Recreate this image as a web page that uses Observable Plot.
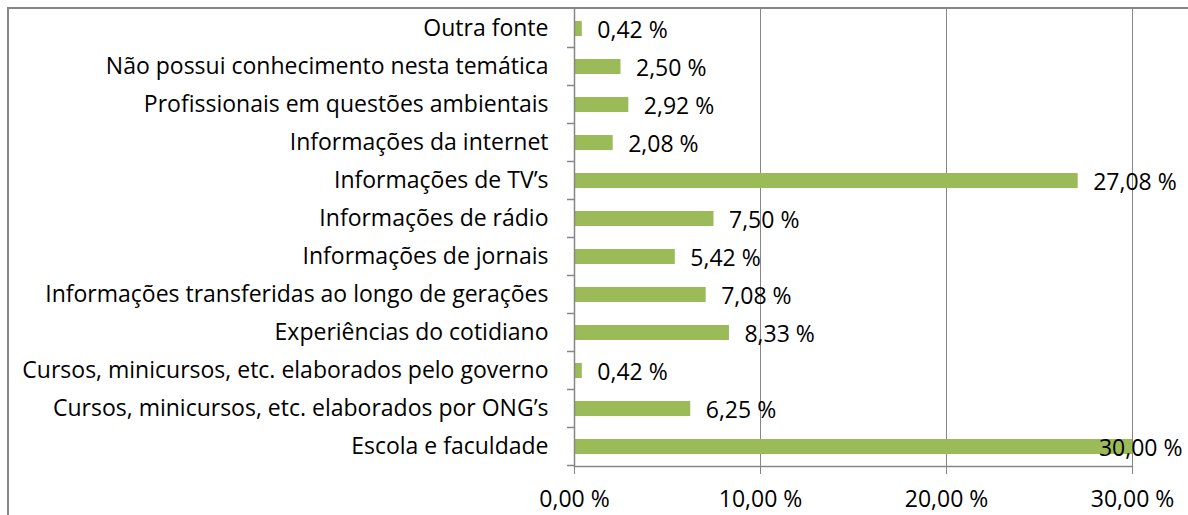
<!DOCTYPE html>
<html>
<head>
<meta charset="utf-8">
<script src="https://cdn.jsdelivr.net/npm/d3@7"></script>
<script src="https://cdn.jsdelivr.net/npm/@observablehq/plot@0.6"></script>
<style>
  html, body { margin: 0; padding: 0; background: #fff; }
  #wrap { position: relative; width: 1188px; height: 515px; overflow: hidden; }
  #border { position: absolute; left: 7px; top: 7px; width: 1300px; height: 600px;
            border-left: 2.5px solid #868686; border-top: 2.5px solid #868686; pointer-events: none; }
  #chart { position: absolute; left: 0; top: 0; }
</style>
</head>
<body>
<div id="wrap"><div id="chart"></div><div id="border"></div></div>
<script>
const categories = [
  "Outra fonte",
  "Não possui conhecimento nesta temática",
  "Profissionais em questões ambientais",
  "Informações da internet",
  "Informações de TV’s",
  "Informações de rádio",
  "Informações de jornais",
  "Informações transferidas ao longo de gerações",
  "Experiências do cotidiano",
  "Cursos, minicursos, etc. elaborados pelo governo",
  "Cursos, minicursos, etc. elaborados por ONG’s",
  "Escola e faculdade"
];
const values = [0.42, 2.50, 2.92, 2.08, 27.08, 7.50, 5.42, 7.08, 8.33, 0.42, 6.25, 30.00];
const xTicks = [0, 10, 20, 30];

const data = categories.map((c, i) => ({cat: c, value: values[i]}));
const fmt = v => v.toFixed(2).replace(".", ",") + " %";
const barColor = "#9BBB59";
const lineColor = "#868686";
const fs = 23;

const chart = Plot.plot({
  width: 1188,
  height: 515,
  marginLeft: 574,
  marginRight: 56,
  marginTop: 9,
  marginBottom: 49,
  style: {fontFamily: "'Open Sans', sans-serif", fontSize: fs + "px", color: "#000", background: "transparent"},
  x: {domain: [0, 30], axis: null},
  y: {domain: categories, paddingInner: 0.6, paddingOuter: 0.3, axis: null},
  marks: [
    Plot.ruleX(xTicks.filter(t => t > 0), {stroke: lineColor, strokeWidth: 1}),
    Plot.barX(data, {x: "value", y: "cat", fill: barColor}),
    Plot.ruleX([0], {stroke: lineColor, strokeWidth: 1.5}),
    Plot.frame({anchor: "bottom", stroke: lineColor, strokeWidth: 1.5}),
    Plot.axisX({ticks: xTicks, tickSize: 8, tickPadding: 16, tickFormat: fmt, stroke: lineColor, fill: "#000", fontSize: fs, label: null}),
    Plot.axisY({tickSize: 0, tickPadding: 26, fill: "#000", fontSize: fs, label: null}),
    Plot.text(data.filter(d => d.value < 29), {x: "value", y: "cat", text: d => fmt(d.value), textAnchor: "start", dx: 15, dy: 2, fill: "#000", fontSize: fs}),
    Plot.text(data.filter(d => d.value >= 29), {x: "value", y: "cat", text: d => fmt(d.value), textAnchor: "end", dx: 50, dy: 2, fill: "#000", fontSize: fs})
  ]
});

document.getElementById("chart").appendChild(chart);

// boundary tick marks on the category axis, positioned from Plot's own scales
const ys = chart.scale("y");
const xs = chart.scale("x");
const x0 = xs.apply(0);
const step = ys.step || ys.bandwidth / 0.4;
const half = (step - ys.bandwidth) / 2;
const bounds = categories.map(c => ys.apply(c) - half);
bounds.push(ys.apply(categories[categories.length - 1]) + ys.bandwidth + half);
const g = d3.select(chart).append("g").attr("stroke", lineColor).attr("stroke-width", 1.5);
bounds.slice(1).forEach(b => {
  g.append("line").attr("x1", x0 - 7).attr("x2", x0).attr("y1", b).attr("y2", b);
});
</script>
</body>
</html>
